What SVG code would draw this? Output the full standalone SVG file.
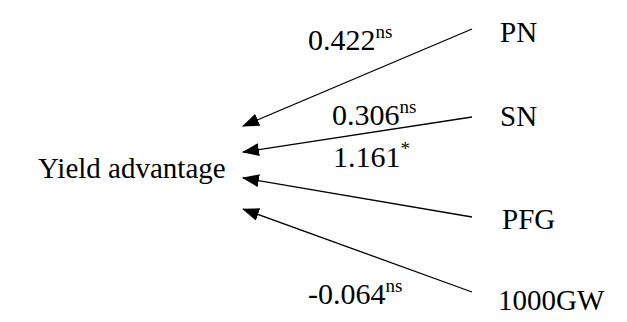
<svg xmlns="http://www.w3.org/2000/svg" width="627" height="322" viewBox="0 0 627 322">
<style>
text{font-family:"Liberation Serif","Times New Roman",serif;fill:#000;font-size:29px}
.lbl{font-size:30px}
.sup{font-size:19px}
.c line{stroke:#000;stroke-width:1.3}
</style>
<defs>
<marker id="ah" markerWidth="17" markerHeight="13" refX="16" refY="6.5" orient="auto" markerUnits="userSpaceOnUse">
<path d="M0,0 L17,6.5 L0,13 Z" fill="#000"/>
</marker>
</defs>
<rect width="627" height="322" fill="#fff"/>
<g id="connectors" class="c">
<line x1="472" y1="29" x2="243" y2="126" marker-end="url(#ah)"/>
<line x1="472" y1="117" x2="243" y2="152" marker-end="url(#ah)"/>
<line x1="472" y1="217" x2="243" y2="178" marker-end="url(#ah)"/>
<line x1="472" y1="292" x2="243" y2="209" marker-end="url(#ah)"/>
</g>
<g id="yield"><text x="38" y="178">Yield advantage</text></g>
<g id="pn"><text x="500" y="42">PN</text></g>
<g id="sn"><text x="500" y="126">SN</text></g>
<g id="pfg"><text x="502" y="229">PFG</text></g>
<g id="gw"><text x="498" y="310">1000GW</text></g>
<g id="labels">
<text class="lbl" x="308" y="50">0.422<tspan class="sup" dy="-12">ns</tspan></text>
<text class="lbl" x="332" y="125">0.306<tspan class="sup" dy="-12">ns</tspan></text>
<text class="lbl" x="333" y="167">1.161<tspan class="sup" dy="-12">*</tspan></text>
<text class="lbl" x="308" y="304">-0.064<tspan class="sup" dy="-12">ns</tspan></text>
</g>
</svg>
